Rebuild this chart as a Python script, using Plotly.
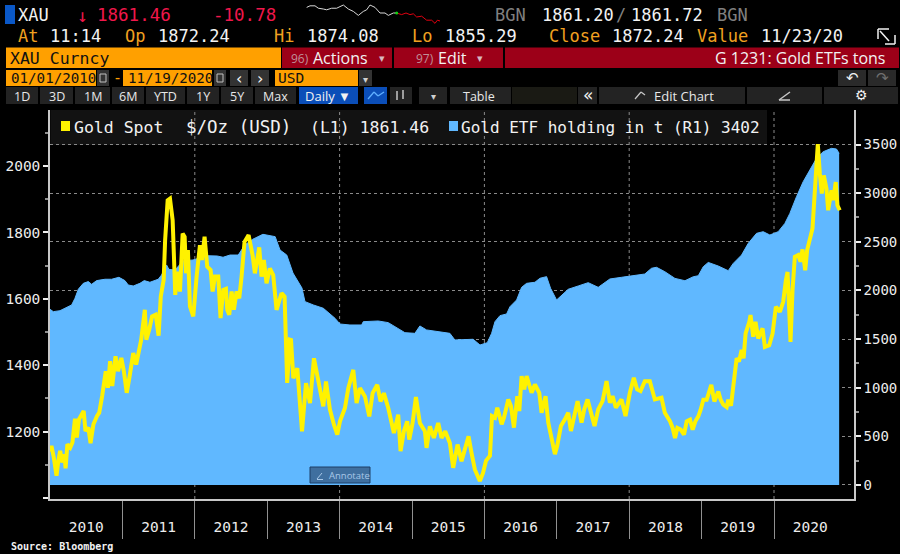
import plotly.graph_objects as go

# ---------- data ----------
gold_years = [2010.00,2010.02,2010.05,2010.07,2010.09,2010.115,2010.14,2010.17,2010.20,2010.215,2010.24,2010.28,2010.31,2010.345,2010.37,2010.40,2010.44,2010.465,2010.49,2010.53,2010.56,2010.60,2010.65,2010.68,2010.72,2010.77,2010.80,2010.83,2010.86,2010.905,2010.94,2010.985,2011.02,2011.06,2011.10,2011.15,2011.19,2011.22,2011.26,2011.31,2011.33,2011.37,2011.41,2011.46,2011.50,2011.53,2011.57,2011.59,2011.625,2011.657,
2011.694,2011.712,2011.73,2011.758,2011.795,2011.832,2011.86,2011.878,2011.905,2011.933,2011.979,2012.025,2012.071,2012.099,2012.135,2012.172,2012.218,2012.246,2012.278,2012.324,2012.356,2012.393,2012.43,2012.448,2012.476,2012.508,2012.54,2012.577,2012.614,2012.646,2012.687,2012.743,2012.798,2012.83,2012.89,2012.922,2012.954,2012.991,2013.037,2013.083,2013.129,2013.198,2013.24,2013.276,2013.313,2013.329,2013.361,2013.416,2013.481,2013.536,2013.591,2013.646,2013.706,2013.775,2013.812,2013.867,2013.922,2013.968,
2014.005,2014.074,2014.12,2014.189,2014.235,2014.281,2014.35,2014.41,2014.456,2014.52,2014.566,2014.612,2014.672,2014.75,2014.81,2014.842,2014.888,2014.934,2014.962,2015.008,2015.054,2015.109,2015.178,2015.201,2015.247,2015.302,2015.362,2015.408,2015.459,2015.523,2015.569,2015.629,2015.684,2015.73,2015.781,2015.822,2015.868,2015.937,2015.98,2016.022,2016.077,2016.105,2016.146,2016.178,2016.238,2016.27,2016.33,2016.367,2016.408,2016.454,2016.482,2016.514,2016.551,2016.583,2016.652,2016.698,2016.758,2016.79,2016.845,2016.882,2016.928,2016.974,
2017.006,2017.057,2017.112,2017.158,2017.195,2017.241,2017.287,2017.342,2017.379,2017.425,2017.471,2017.521,2017.572,2017.632,2017.687,2017.733,2017.77,2017.816,2017.894,2017.949,2018.009,2018.064,2018.11,2018.156,2018.216,2018.285,2018.354,2018.446,2018.492,2018.564,2018.60,2018.633,2018.665,2018.711,2018.757,2018.794,2018.84,2018.877,2018.914,2018.955,2018.987,2019.024,2019.07,2019.093,2019.134,2019.176,2019.231,2019.263,2019.30,2019.346,2019.369,2019.406,2019.438,2019.466,2019.484,2019.516,2019.553,2019.58,2019.608,2019.659,2019.676,2019.713,2019.745,2019.782,2019.842,2019.874,2019.934,2019.98,
2020.026,2020.081,2020.127,2020.164,2020.187,2020.21,2020.228,2020.256,2020.288,2020.334,2020.366,2020.394,2020.431,2020.458,2020.495,2020.532,2020.559,2020.587,2020.605,2020.633,2020.66,2020.688,2020.725,2020.748,2020.794,2020.817,2020.853,2020.876,2020.908]
gold_spot = [1140,1157,1125,1092,1067,1112,1142,1107,1132,1089,1162,1152,1167,1239,1182,1237,1257,1262,1202,1212,1165,1222,1247,1257,1307,1382,1332,1412,1337,1427,1382,1422,1382,1317,1367,1437,1402,1437,1477,1567,1477,1507,1547,1552,1489,1607,1657,1777,1897,1902,
1837,1727,1612,1682,1622,1797,1787,1677,1747,1577,1547,1667,1762,1717,1787,1697,1687,1622,1667,1667,1542,1627,1630,1567,1552,1622,1567,1622,1602,1667,1772,1792,1732,1677,1755,1667,1717,1647,1692,1672,1567,1617,1607,1347,1477,1476,1361,1391,1201,1346,1286,1421,1356,1276,1351,1266,1221,1191,
1231,1271,1331,1386,1286,1331,1306,1246,1316,1341,1291,1316,1271,1196,1251,1141,1201,1231,1176,1226,1304,1226,1201,1151,1216,1181,1226,1181,1201,1166,1091,1161,1111,1146,1186,1136,1086,1051,1075,1112,1127,1247,1242,1272,1222,1242,1297,1277,1212,1307,1262,1367,1327,1367,1317,1342,1317,1257,1307,1227,1177,1132,
1157,1217,1237,1257,1202,1252,1292,1227,1267,1297,1257,1217,1267,1292,1352,1287,1307,1272,1297,1247,1317,1362,1327,1322,1352,1352,1297,1302,1257,1231,1211,1181,1211,1206,1191,1231,1236,1206,1231,1246,1266,1296,1296,1311,1341,1291,1321,1296,1281,1274,1296,1278,1341,1386,1421,1411,1446,1421,1496,1531,1551,1486,1531,1481,1511,1455,1460,1495,
1576,1561,1591,1656,1681,1566,1470,1626,1727,1732,1712,1749,1686,1747,1777,1812,1907,2018,2066,1977,1917,1972,1932,1867,1927,1897,1952,1882,1867]

etf_years = [2010.00,2010.046,2010.138,2010.207,2010.299,2010.345,2010.391,2010.46,2010.529,2010.575,2010.644,2010.759,2010.851,2010.952,2011.035,2011.081,2011.15,2011.242,2011.302,2011.38,2011.495,2011.541,2011.61,2011.642,2011.727,2011.84,2011.975,2012.17,2012.31,2012.39,2012.486,2012.6,2012.69,2012.80,2012.94,2013.11,2013.177,2013.27,2013.356,2013.48,2013.522,2013.637,2013.775,2013.936,2014.005,2014.143,2014.304,2014.327,2014.534,2014.672,2014.833,2014.902,2015.04,2015.109,2015.201,2015.339,2015.523,2015.592,2015.753,2015.845,2015.939,2016.04,2016.1,2016.146,2016.215,2016.307,2016.353,2016.445,2016.514,2016.583,2016.698,2016.767,2016.859,2016.914,2016.997,2017.089,2017.158,2017.296,2017.434,2017.572,2017.664,2017.733,2017.894,2018.101,2018.216,2018.308,2018.377,2018.492,2018.632,2018.77,2018.885,2018.954,2019.023,2019.092,2019.23,2019.368,2019.437,2019.552,2019.644,2019.759,2019.851,2019.943,2020.058,2020.15,2020.219,2020.311,2020.403,2020.495,2020.587,2020.679,2020.794,2020.863,2020.9]
etf_tons = [1806,1782,1792,1816,1851,1919,2012,2073,2091,2063,2101,2115,2115,2135,2101,2056,2046,2073,2101,2084,2115,2159,2262,2217,2210,2306,2313,2357,2354,2341,2364,2364,2467,2526,2577,2553,2416,2364,2179,2025,1885,1851,1817,1714,1655,1645,1645,1679,1686,1669,1594,1566,1559,1635,1594,1577,1559,1491,1498,1498,1439,1463,1559,1679,1741,1758,1833,1902,2032,2073,2084,2125,2142,2022,1902,1970,2012,2046,2080,2032,2080,2118,2135,2159,2169,2228,2238,2193,2124,2100,2141,2151,2244,2288,2251,2203,2278,2364,2484,2587,2604,2570,2604,2689,2792,2964,3118,3238,3358,3426,3461,3454,3409]

spark_t = [20,30,45,55,70,80,95,110,130,145,160,175,190,200,210,225,240,255,265,280,290]
spark_prev = [1875,1877,1877,1874,1873,1872,1874,1874,1878,1873,1870,1865,1870,1872,1878,1875,1868,1868,1865,1868,1868]
spark_t2 = [290,305,318,330,340,350,365,380,395,405,412,420]
spark_today = [1868,1866,1868,1866,1867,1863,1864,1859,1859,1855,1859,1858]

year_labels = ["2010","2011","2012","2013","2014","2015","2016","2017","2018","2019","2020"]
year_mids = [2010.5,2011.5,2012.5,2013.5,2014.5,2015.5,2016.5,2017.5,2018.5,2019.5,2020.5]
year_bounds = [2011,2012,2013,2014,2015,2016,2017,2018,2019,2020]
even_years = [2012,2014,2016,2018,2020]
left_ticks = [1000,1200,1400,1600,1800,2000]
left_labels = ["","1200","1400","1600","1800","2000"]
left_minor = [1100,1300,1500,1700,1900,2100]
right_ticks = [0,500,1000,1500,2000,2500,3000,3500]
right_minor = [250,750,1250,1750,2250,2750,3250]

# ---------- styles ----------
MONO = "DejaVu Sans Mono"
SANS = "Open Sans"
ORANGE = "#FFA000"
AMBER = "#F0A020"
RED = "#F0174B"
CRIM = "#9C0018"
W = "#F2F2F2"
BTN = "#232323"

X = lambda p: p / 900
Y = lambda p: 1 - p / 554

shapes, annos = [], []

def rect(x0, y0, x1, y1, fill, layer="above", line=None):
    shapes.append(dict(type="rect", xref="paper", yref="paper", x0=X(x0), x1=X(x1), y0=Y(y0), y1=Y(y1),
                       fillcolor=fill, layer=layer, line=dict(width=1 if line else 0, color=line or fill)))

def seg(x0, y0, x1, y1, color, w=1):
    shapes.append(dict(type="line", xref="paper", yref="paper", x0=X(x0), x1=X(x1), y0=Y(y0), y1=Y(y1),
                       layer="above", line=dict(color=color, width=w)))

def txt(x, y, s, color=W, size=17, font=MONO, anchor="left", bold=False):
    annos.append(dict(xref="paper", yref="paper", x=X(x), y=Y(y), text=f"<b>{s}</b>" if bold else s,
                      showarrow=False, xanchor=anchor, yanchor="middle", borderpad=0,
                      font=dict(family=font, size=size, color=color)))

# quote lines
rect(5, 5, 15, 24, "#0A58C8")
txt(17, 15, "XAU", W, 17)
txt(82, 15, "↓", RED, 18, anchor="center")
txt(96, 15, "1861.46", RED, 17.5)
txt(212, 15, "-10.78", RED, 17.5)
txt(494, 15, "BGN", "#808080", 17)
txt(541, 15, "1861.20", W, 17)
txt(621, 15, "/", "#808080", 17, anchor="center")
txt(630, 15, "1861.72", W, 17)
txt(716, 15, "BGN", "#808080", 17)
for x, s, c in [(17, "At", AMBER), (49, "11:14", W), (124, "Op", AMBER), (157, "1872.24", W), (273, "Hi", AMBER),
                (306, "1874.08", W), (411, "Lo", AMBER), (444, "1855.29", W), (548, "Close", AMBER),
                (611, "1872.24", W), (696, "Value", AMBER), (760, "11/23/20", W)]:
    txt(x, 36, s, c, 17)

# expand icon
seg(878, 29, 889, 29, W, 1.5); seg(878, 29, 878, 39, W, 1.5); seg(880, 31, 889, 41, W, 1.5)
seg(885, 44, 895, 44, W, 1.5); seg(895, 35, 895, 44, W, 1.5)

# command bar
rect(6, 47.5, 281, 68, ORANGE)
txt(9, 58, "XAU Curncy", "#111111", 16.5)
rect(282, 47.5, 392, 68, CRIM)
txt(290, 58, "96)", "#C09098", 12, SANS)
txt(312, 58, "Actions", W, 16, SANS)
txt(382, 59, "▾", "#D8B8C0", 11, anchor="center", font="DejaVu Sans")
rect(394, 47.5, 503, 68, CRIM)
txt(415, 58, "97)", "#C09098", 12, SANS)
txt(437, 58, "Edit", W, 16, SANS)
txt(480, 59, "▾", "#D8B8C0", 11, anchor="center", font="DejaVu Sans")
rect(505, 47.5, 899, 68, CRIM)
txt(887, 58, "G 1231: Gold ETFs tons", W, 16, SANS, anchor="right")

# date bar
rect(6, 70, 96, 86, ORANGE)
txt(9.5, 78, "01/01/2010", "#111111", 14.2)
rect(97, 70, 109, 86, "#333333")
rect(100, 74, 106, 82, "#333333", line="#C0C0C0")
txt(117, 78, "-", ORANGE, 15, anchor="center")
rect(123, 70, 212, 86, ORANGE)
txt(127, 78, "11/19/2020", "#111111", 14.2)
rect(214, 70, 226, 86, "#333333")
rect(217, 74, 223, 82, "#333333", line="#C0C0C0")
rect(230, 70, 248, 86, "#333333")
txt(239, 78, "‹", W, 16, anchor="center", font="DejaVu Sans")
rect(251, 70, 269, 86, "#333333")
txt(260, 78, "›", W, 16, anchor="center", font="DejaVu Sans")
rect(275, 70, 358, 86, ORANGE)
txt(277, 78, "USD", "#111111", 14.5)
rect(359, 70, 372, 86, "#333333")
txt(365.5, 79, "▾", "#D0D0D0", 10, anchor="center", font="DejaVu Sans")
rect(838, 70, 866, 86, "#2A2A2A")
txt(852, 78, "↶", W, 15, anchor="center", font="DejaVu Sans")
rect(868, 70, 896, 86, "#2A2A2A")
txt(882, 78, "↷", "#707070", 15, anchor="center", font="DejaVu Sans")

# toolbar
for x0, x1, s in [(6, 38, "1D"), (40, 73, "3D"), (75, 110, "1M"), (112, 144, "6M"), (146, 185, "YTD"),
                  (187, 219, "1Y"), (221, 253, "5Y"), (255, 296, "Max")]:
    rect(x0, 87, x1, 104, BTN)
    txt((x0 + x1) / 2, 96, s, "#E8E8E8", 12.5, SANS, anchor="center")
rect(299, 87, 358, 104, "#0B4EB8")
txt(328, 96, "Daily ▼", W, 13, SANS, anchor="center")
rect(364, 87, 387, 104, "#0B4EB8")
seg(368, 99, 374, 92, "#60B0FF", 1.3); seg(374, 92, 378, 96, "#60B0FF", 1.3); seg(378, 96, 384, 92, "#60B0FF", 1.3)
rect(390, 87, 412, 104, BTN)
seg(397, 91, 397, 100, "#C8C8C8", 1.5); seg(403, 90, 403, 99, "#C8C8C8", 1.5)
rect(419, 87, 447, 104, BTN)
txt(433, 96, "▾", "#D0D0D0", 10, anchor="center", font="DejaVu Sans")
rect(450, 87, 511, 104, BTN)
txt(479, 96, "Table", "#E8E8E8", 12.5, SANS, anchor="center")
rect(512, 87, 577, 104, "#1A1A14")
rect(578, 87, 597, 104, BTN)
txt(588, 95, "«", W, 17, anchor="center", font="DejaVu Sans")
rect(599, 87, 745, 104, BTN)
seg(635, 99, 641, 92, "#C8C8C8", 1.2); seg(641, 92, 645, 95, "#C8C8C8", 1.2)
txt(653, 96, "Edit Chart", "#E8E8E8", 13, SANS)
rect(747, 87, 822, 104, BTN)
seg(779, 100, 790, 92, "#C8C8C8", 1.5); seg(779, 100, 790, 100, "#C8C8C8", 1.5)
rect(824, 87, 898, 104, BTN)
txt(861, 95, "⚙", W, 14, anchor="center", font="DejaVu Sans")

# legend band
rect(50.5, 110, 767, 145, "#121212", layer="below")
rect(61, 121, 70, 131, "#FFF200")
txt(73, 127, "Gold Spot", W, 16.5)
txt(185, 127, "$/Oz (USD)", W, 17.5)
txt(309, 127, "(L1) 1861.46", W, 16.5)
rect(449, 121, 458, 131, "#60B8FF")
txt(460, 127, "Gold ETF holding in t (R1) 3402", W, 16)

# annotate button
rect(310, 467, 370, 483, "#3F6F9F", line="#1C3F66")
seg(317, 479, 322, 473, "#A8C8E8", 1)
seg(317, 479.5, 323, 479.5, "#A8C8E8", 1)
txt(349, 475, "Annotate", "#A8C8E8", 9.5, SANS, anchor="center")

# source
txt(10, 546, "Source: Bloomberg", W, 10, MONO, bold=True)

# vertical dotted gridlines
for yr in even_years:
    shapes.append(dict(type="line", xref="x", yref="paper", x0=yr, x1=yr, y0=Y(499), y1=Y(110), layer="below",
                       line=dict(color="#8A8A8A", width=1, dash="dot")))

fig = go.Figure()
fig.add_trace(go.Scatter(x=etf_years, y=etf_tons, mode="lines", fill="tozeroy", fillcolor="#60B8FF",
                         line=dict(color="#60B8FF", width=1), xaxis="x", yaxis="y", hoverinfo="skip"))
fig.add_trace(go.Scatter(x=gold_years, y=gold_spot, mode="lines", line=dict(color="#FFF200", width=4),
                         xaxis="x", yaxis="y2", hoverinfo="skip"))
fig.add_trace(go.Scatter(x=spark_t, y=spark_prev, mode="lines", line=dict(color="#D8D8D8", width=1),
                         xaxis="x3", yaxis="y3", hoverinfo="skip"))
fig.add_trace(go.Scatter(x=spark_t2, y=spark_today, mode="lines", line=dict(color="#E00010", width=1),
                         xaxis="x3", yaxis="y3", hoverinfo="skip"))
fig.add_trace(go.Scatter(x=spark_t2[:1], y=spark_today[:1], mode="markers", marker=dict(color="#10D010", size=3),
                         xaxis="x3", yaxis="y3", hoverinfo="skip"))

AX = "#C8C8C8"
tickfont = dict(family=MONO, size=14.5, color="#EDEDED")
fig.update_layout(
    width=900, height=554, autosize=False, showlegend=False,
    margin=dict(l=0, r=0, t=0, b=0), paper_bgcolor="#000000", plot_bgcolor="rgba(0,0,0,0)",
    shapes=shapes, annotations=annos,
    xaxis=dict(domain=[X(50), X(854)], range=[2010, 2021.105], anchor="y", showgrid=False, zeroline=False,
               showline=True, linecolor=AX, linewidth=1.5,
               tickmode="array", tickvals=year_mids, ticktext=year_labels, ticks="", ticklabelstandoff=14,
               tickfont=tickfont,
               minor=dict(tickmode="array", tickvals=year_bounds, ticks="outside", ticklen=38, tickwidth=1,
                          tickcolor="#909090", showgrid=False)),
    yaxis=dict(domain=[Y(499), Y(110)], range=[-144, 3855], side="right", anchor="x",
               showline=True, linecolor=AX, linewidth=1.5, zeroline=False,
               tickmode="array", tickvals=right_ticks, ticks="outside", ticklen=5, tickwidth=1.5, tickcolor="#F0F0F0",
               tickfont=dict(family=MONO, size=14, color="#EDEDED"), showgrid=True,
               gridcolor="#8A8A8A", griddash="dot", gridwidth=1,
               minor=dict(tickmode="array", tickvals=right_minor, ticks="outside", ticklen=3, tickcolor="#909090", showgrid=False)),
    yaxis2=dict(domain=[Y(499), Y(110)], range=[997, 2169], side="left", overlaying="y", anchor="x",
                showline=True, linecolor=AX, linewidth=1.5, zeroline=False, showgrid=False,
                tickmode="array", tickvals=left_ticks, ticktext=left_labels, ticks="outside", ticklen=5, tickwidth=1.5,
                tickcolor="#F0F0F0", tickfont=tickfont,
                minor=dict(tickmode="array", tickvals=left_minor, ticks="outside", ticklen=3, tickcolor="#909090", showgrid=False)),
    xaxis3=dict(domain=[X(300), X(450)], range=[0, 450], anchor="y3", visible=False),
    yaxis3=dict(domain=[Y(30), Y(0)], range=[1846.7, 1884.3], anchor="x3", visible=False),
)
fig.write_html("out.html", config=dict(displayModeBar=False),
               post_script="document.body.style.margin='0';document.body.style.background='#000';document.documentElement.style.overflow='hidden';")
